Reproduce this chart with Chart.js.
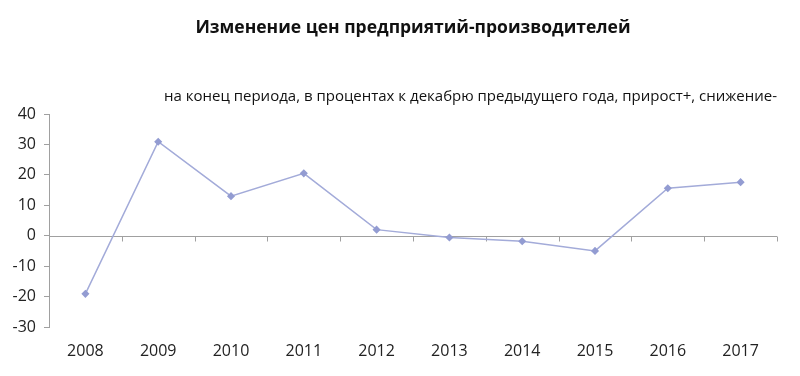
<!DOCTYPE html>
<html lang="ru">
<head>
  <meta charset="UTF-8">
  <title>Изменение цен предприятий-производителей</title>
  <script src="https://cdn.jsdelivr.net/npm/chart.js"></script>
  <style>
    html, body { margin: 0; padding: 0; background: #fff; }
    #wrap { width: 800px; height: 376px; }
  </style>
</head>
<body>
<div id="wrap">
  <canvas id="ppiChart" width="800" height="376"></canvas>
</div>

<script>
  const years = ["2008", "2009", "2010", "2011", "2012", "2013", "2014", "2015", "2016", "2017"];
  const ppiChange = [-19.1, 30.9, 13.0, 20.5, 2.0, -0.6, -1.8, -5.0, 15.6, 17.6];
  const yTicks = [-30, -20, -10, 0, 10, 20, 30, 40];

  const axisGray = '#a0a0a0';

  // zero line with small tick marks between the years (Excel style)
  const zeroAxis = {
    id: 'zeroAxis',
    beforeDatasetsDraw(chart) {
      const { ctx, chartArea, scales: { x, y } } = chart;
      const y0 = Math.round(y.getPixelForValue(0)) + 0.5;
      ctx.save();
      ctx.strokeStyle = axisGray;
      ctx.lineWidth = 1;
      ctx.beginPath();
      ctx.moveTo(chartArea.left, y0);
      ctx.lineTo(chartArea.right, y0);
      for (let i = 0; i < years.length; i++) {
        const px = Math.round(x.getPixelForValue(i + 0.5)) + 0.5;
        ctx.moveTo(px, y0);
        ctx.lineTo(px, y0 + 5);
      }
      ctx.stroke();
      ctx.restore();
    }
  };

  const ctx = document.getElementById('ppiChart').getContext('2d');
  new Chart(ctx, {
    type: 'line',
    data: {
      labels: years,
      datasets: [{
        data: ppiChange,
        borderColor: '#a3abd9',
        borderWidth: 1.5,
        pointStyle: 'rectRot',
        pointRadius: 3,
        pointBackgroundColor: '#939cd2',
        pointBorderColor: '#939cd2',
        tension: 0
      }]
    },
    plugins: [zeroAxis],
    options: {
      responsive: false,
      animation: false,
      layout: { padding: { left: 0, right: 23, top: 10, bottom: 0 } },
      plugins: {
        legend: { display: false },
        tooltip: { enabled: false },
        title: {
          display: true,
          fullSize: false,
          text: 'Изменение цен предприятий-производителей',
          color: '#111',
          font: { family: 'Open Sans', size: 17.5, weight: 'bold' },
          padding: { top: 7.5, bottom: 0 }
        },
        subtitle: {
          display: true,
          fullSize: false,
          align: 'end',
          text: 'на конец периода, в процентах к декабрю предыдущего года, прирост+, снижение-',
          color: '#111',
          font: { family: 'Open Sans', size: 15 },
          padding: { top: 49.5, bottom: 8 }
        }
      },
      scales: {
        x: {
          type: 'category',
          offset: true,
          afterFit(scale) { scale.height = 49; },
          border: { display: false },
          grid: { display: false, drawTicks: false },
          ticks: {
            padding: 15,
            color: '#222',
            font: { family: 'Open Sans', size: 16 },
            maxRotation: 0
          }
        },
        y: {
          min: -30,
          max: 40,
          afterFit(scale) { scale.width = 49; },
          afterBuildTicks(scale) { scale.ticks = yTicks.map(v => ({ value: v })); },
          border: { display: true, color: axisGray, width: 1 },
          grid: { drawOnChartArea: false, drawTicks: true, tickLength: 5, color: axisGray },
          ticks: {
            padding: 8,
            color: '#222',
            font: { family: 'Open Sans', size: 16 }
          }
        }
      }
    }
  });
</script>
</body>
</html>
